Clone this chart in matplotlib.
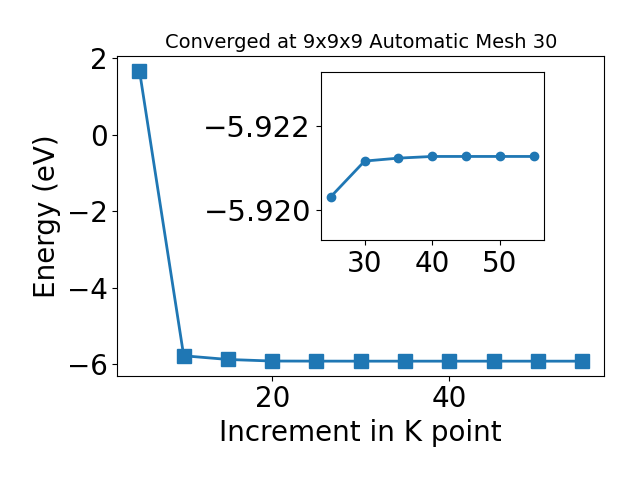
import matplotlib
matplotlib.use("Agg")
import matplotlib.pyplot as plt

kpoints = [5, 10, 15, 20, 25, 30, 35, 40, 45, 50, 55]
energy = [1.675, -5.78, -5.877, -5.918, -5.92032, -5.92117, -5.92124, -5.92128, -5.92128, -5.92128, -5.92128]
inset_k = [25, 30, 35, 40, 45, 50, 55]
inset_e = [-5.92032, -5.92117, -5.92124, -5.92128, -5.92128, -5.92128, -5.92128]

fig = plt.figure(figsize=(6.4, 4.8), dpi=100)
ax = fig.add_axes([0.1833, 0.2173, 0.7607, 0.666])
ax.plot(kpoints, energy, marker='s', markersize=10, linewidth=2, color='#1f77b4')
ax.set_xlabel('Increment in K point', fontsize=20)
ax.set_ylabel('Energy (eV)', fontsize=20)
ax.set_title('Converged at 9x9x9 Automatic Mesh 30', fontsize=14)
ax.tick_params(labelsize=20)
ax.set_yticks([-6, -4, -2, 0, 2])

ins = fig.add_axes([0.501, 0.5, 0.349, 0.349])
ins.plot(inset_k, inset_e, marker='o', markersize=6, linewidth=2, color='#1f77b4')
ins.set_ylim(-5.91929, -5.92328)
ins.set_yticks([-5.922, -5.920])
ins.set_xticks([30, 40, 50])
ins.tick_params(axis='x', labelsize=20)
ins.tick_params(axis='y', labelsize=21)

fig.savefig('out.png', dpi=100)
